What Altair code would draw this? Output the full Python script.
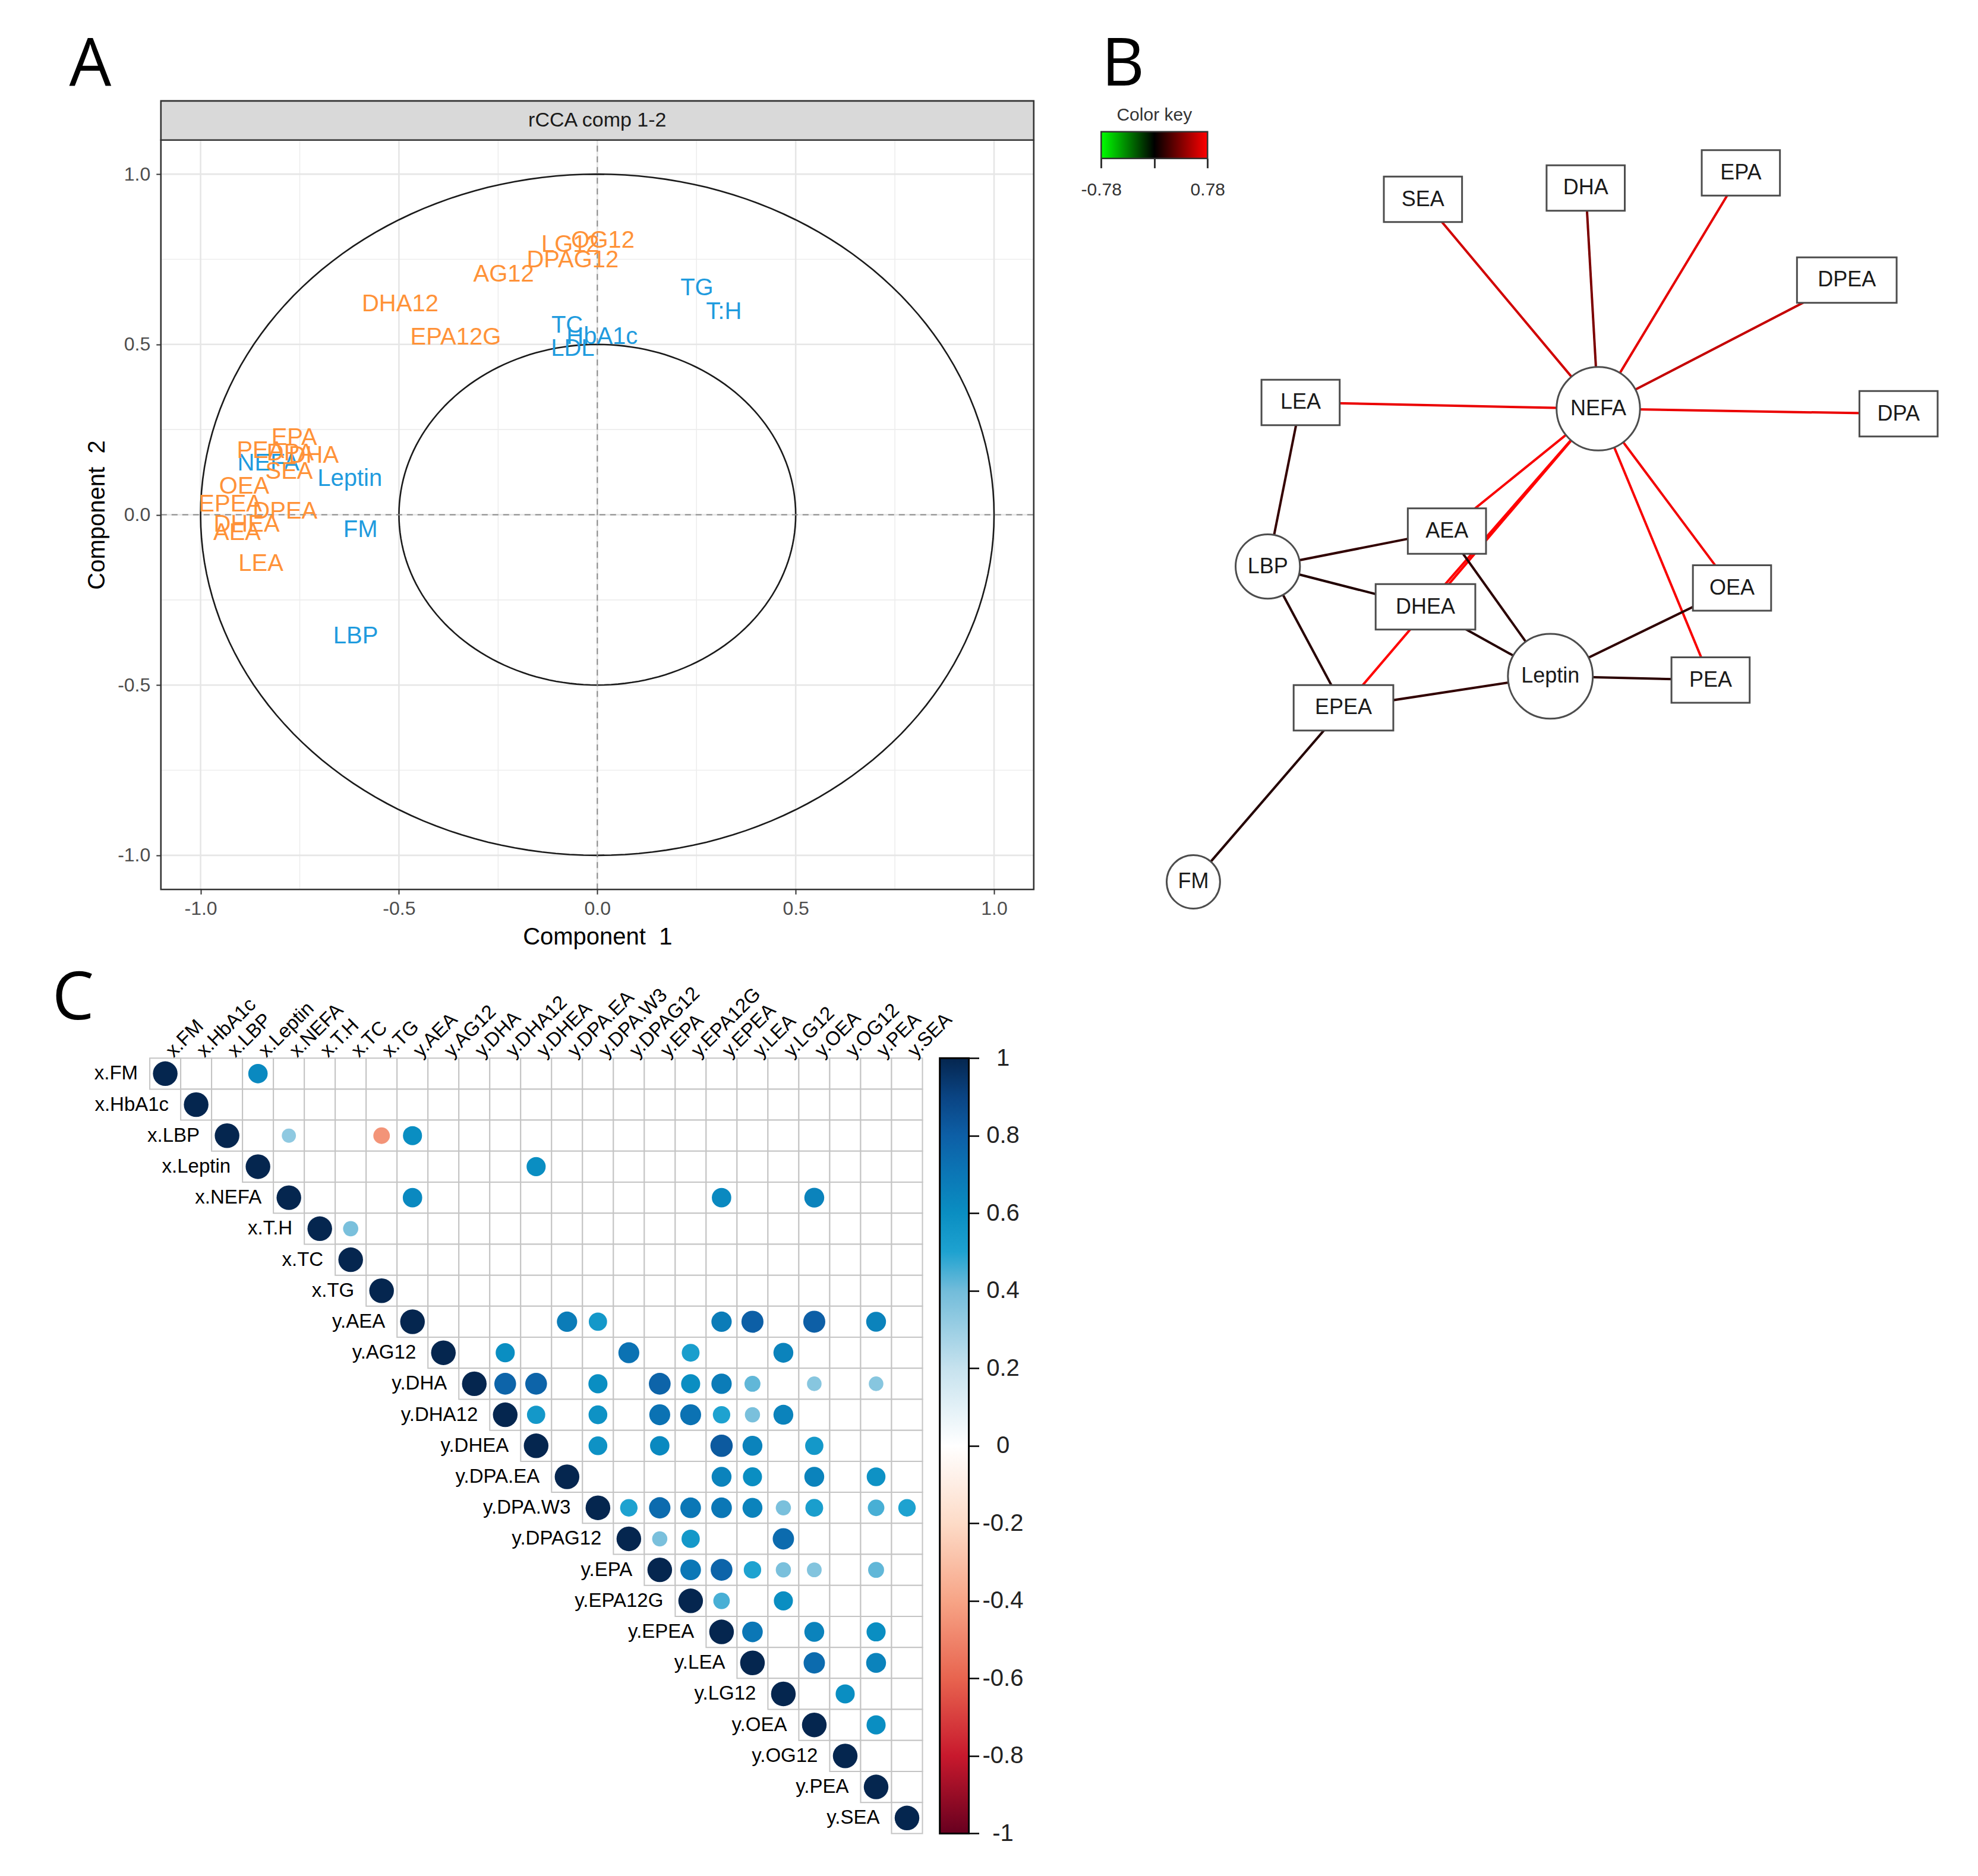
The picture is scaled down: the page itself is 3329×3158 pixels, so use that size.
import altair as alt
import pandas as pd
import numpy as np

# ---------------- figure geometry ----------------
W, H = 3313, 3142          # chart size (page is 3329 x 3158 with 8px margin)
M = 8
SX = 3329 / 1568
SY = 3158 / 1487
FONT = "Liberation Sans"


def fx(v):
    return v - M


# ================= Panel A data (rCCA correlation circle) =================
a_x_names = ["TC", "HbA1c", "LDL", "TG", "T:H", "Leptin", "FM", "LBP", "NEFA"]
a_x_comp1 = [-0.076, 0.012, -0.062, 0.251, 0.319, -0.624, -0.597, -0.609, -0.829]
a_x_comp2 = [0.555, 0.523, 0.488, 0.665, 0.596, 0.105, -0.045, -0.357, 0.150]

a_y_names = ["OG12", "LG12", "DPAG12", "AG12", "DHA12", "EPA12G", "EPA", "PEA", "DPA",
             "DHA", "SEA", "OEA", "EPEA", "DPEA", "DHEA", "AEA", "LEA"]
a_y_comp1 = [0.014, -0.068, -0.062, -0.236, -0.497, -0.357, -0.764, -0.849, -0.774,
             -0.715, -0.777, -0.890, -0.925, -0.787, -0.884, -0.908, -0.848]
a_y_comp2 = [0.805, 0.793, 0.747, 0.706, 0.619, 0.520, 0.225, 0.187, 0.180,
             0.173, 0.126, 0.083, 0.030, 0.010, -0.028, -0.054, -0.144]

a_circle_radii = [1.0, 0.5]
a_major = [-1.0, -0.5, 0.0, 0.5, 1.0]
a_minor = [-0.75, -0.25, 0.25, 0.75]
a_lim = 1.1
a_strip_top = 1.215
a_strip_text = "rCCA comp 1-2"
a_block_colors = ["#1F9BDE", "#FF9238"]

# ================= Panel B data (network) =================
net_names = ["SEA", "DHA", "EPA", "DPEA", "DPA", "LEA", "NEFA", "AEA", "LBP", "DHEA",
             "OEA", "Leptin", "PEA", "EPEA", "FM"]
net_block = ["Y", "Y", "Y", "Y", "Y", "Y", "X", "Y", "X", "Y", "Y", "X", "Y", "Y", "X"]
net_layout_x = [1128, 1257, 1380, 1464, 1505, 1031, 1267, 1147, 1005, 1130, 1373, 1229, 1356, 1065, 946]
net_layout_y = [158, 149, 137, 222, 328, 319, 324, 421, 449, 481, 466, 536, 539, 561, 699]

edge_from = ["NEFA"] * 11 + ["LBP"] * 4 + ["Leptin"] * 5 + ["FM"]
edge_to = ["SEA", "DHA", "EPA", "DPEA", "DPA", "LEA", "AEA", "DHEA", "EPEA", "OEA", "PEA",
           "LEA", "AEA", "DHEA", "EPEA",
           "AEA", "DHEA", "OEA", "PEA", "EPEA",
           "EPEA"]
edge_weight = [0.64, 0.38, 0.70, 0.60, 0.72, 0.72, 0.76, 0.78, 0.78, 0.74, 0.76,
               0.16, 0.15, 0.10, 0.12,
               0.13, 0.11, 0.14, 0.13, 0.15,
               0.11]

# ================= Panel C data (correlation matrix) =================
corr_vars = ["x.FM", "x.HbA1c", "x.LBP", "x.Leptin", "x.NEFA", "x.T.H", "x.TC", "x.TG",
             "y.AEA", "y.AG12", "y.DHA", "y.DHA12", "y.DHEA", "y.DPA.EA", "y.DPA.W3",
             "y.DPAG12", "y.EPA", "y.EPA12G", "y.EPEA", "y.LEA", "y.LG12", "y.OEA",
             "y.OG12", "y.PEA", "y.SEA"]
corr_row = [0, 2, 2, 2, 3, 4, 4, 4, 5,
            8, 8, 8, 8, 8, 8,
            9, 9, 9, 9,
            10, 10, 10, 10, 10, 10, 10, 10, 10,
            11, 11, 11, 11, 11, 11, 11,
            12, 12, 12, 12, 12,
            13, 13, 13, 13,
            14, 14, 14, 14, 14, 14, 14, 14, 14,
            15, 15, 15,
            16, 16, 16, 16, 16, 16,
            17, 17,
            18, 18, 18,
            19, 19,
            20,
            21]
corr_col = [3, 4, 7, 8, 12, 8, 18, 21, 6,
            13, 14, 18, 19, 21, 23,
            11, 15, 17, 20,
            11, 12, 14, 16, 17, 18, 19, 21, 23,
            12, 14, 16, 17, 18, 19, 20,
            14, 16, 18, 19, 21,
            18, 19, 21, 23,
            15, 16, 17, 18, 19, 20, 21, 23, 24,
            16, 17, 20,
            17, 18, 19, 20, 21, 23,
            18, 20,
            19, 21, 23,
            21, 23,
            22,
            23]
corr_val = [0.62, 0.33, -0.45, 0.60, 0.60, 0.62, 0.62, 0.65, 0.38,
            0.68, 0.55, 0.68, 0.80, 0.80, 0.65,
            0.60, 0.72, 0.52, 0.65,
            0.78, 0.78, 0.60, 0.78, 0.60, 0.68, 0.42, 0.35, 0.35,
            0.55, 0.58, 0.72, 0.72, 0.50, 0.38, 0.65,
            0.58, 0.62, 0.82, 0.65, 0.55,
            0.65, 0.60, 0.65, 0.58,
            0.50, 0.75, 0.70, 0.70, 0.65, 0.38, 0.52, 0.45, 0.50,
            0.38, 0.55, 0.75,
            0.70, 0.78, 0.50, 0.38, 0.36, 0.42,
            0.45, 0.60,
            0.70, 0.65, 0.60,
            0.75, 0.65,
            0.60,
            0.60]
cbar_ticks = [-1, -0.8, -0.6, -0.4, -0.2, 0, 0.2, 0.4, 0.6, 0.8, 1]
corr_color_domain = [-1, -0.8, -0.6, -0.4, -0.2, 0, 0.2, 0.4, 0.5, 0.6, 0.7, 0.8, 0.9, 1]
corr_color_range = ["#67001F", "#C8192D", "#E8644F", "#F7A486", "#FDDBC7", "#FFFFFF",
                    "#C6E2EE", "#72BCDA", "#1EA2D0", "#0A8EC2", "#0B77B6", "#0D5FA6",
                    "#0A4483", "#05264F"]

# panel letters (figure coordinates, reference pixels)
letter_text = ["A", "B", "C"]
letter_x = [152, 1890, 123]
letter_y = [144, 144, 1716]

# =====================================================================
# Panel A
# =====================================================================
A_X = alt.Scale(domain=[-a_lim, a_lim], range=[fx(270.8), fx(1739.8)], nice=False, zero=False)
A_Y = alt.Scale(domain=[-a_lim, a_lim], range=[fx(1497.2), fx(235.8)], nice=False, zero=False)
lab_expr = "(datum.value < 0 ? '-' : '') + format(abs(datum.value), '.1f')"
A_XAX = alt.Axis(orient="bottom", offset=fx(1497.2) - H, values=a_major, labelExpr=lab_expr,
                 grid=False, domain=False, tickSize=8, tickWidth=2, tickColor="#333333",
                 labelFont=FONT, labelFontSize=32, labelColor="#4D4D4D", labelPadding=9,
                 labelFlush=False,
                 title="Component \u00a01", titleFont=FONT, titleFontSize=40,
                 titleFontWeight="normal", titleColor="#000000", titlePadding=12)
A_YAX = alt.Axis(orient="left", offset=-fx(270.8), values=a_major, labelExpr=lab_expr,
                 grid=False, domain=False, tickSize=8, tickWidth=2, tickColor="#333333",
                 labelFont=FONT, labelFontSize=32, labelColor="#4D4D4D", labelPadding=10,
                 labelFlush=False,
                 title="Component \u00a02", titleFont=FONT, titleFontSize=40,
                 titleFontWeight="normal", titleColor="#000000", titlePadding=14)


def AX(f):
    return alt.X(f, type="quantitative", scale=A_X, axis=A_XAX)


def AY(f):
    return alt.Y(f, type="quantitative", scale=A_Y, axis=A_YAX)


minor_df = pd.DataFrame({"v": a_minor, "lo": -a_lim, "hi": a_lim})
major_df = pd.DataFrame({"v": a_major, "lo": -a_lim, "hi": a_lim})
zero_df = pd.DataFrame({"v": [0.0], "lo": [-a_lim], "hi": [a_lim]})

ang = np.deg2rad(np.arange(0, 361, 2))
circ_rows = []
for r in a_circle_radii:
    for k, t in enumerate(ang):
        circ_rows.append({"r": r, "k": k, "cx": r * np.cos(t), "cy": r * np.sin(t)})
circ_df = pd.DataFrame(circ_rows)

lab_df = pd.concat([
    pd.DataFrame({"name": a_x_names, "c1": a_x_comp1, "c2": a_x_comp2, "block": "X"}),
    pd.DataFrame({"name": a_y_names, "c1": a_y_comp1, "c2": a_y_comp2, "block": "Y"}),
], ignore_index=True)
lab_df["ord"] = range(len(lab_df))

box_df = pd.DataFrame({"lo": [-a_lim], "hi": [a_lim]})
strip_df = pd.DataFrame({"lo": [-a_lim], "hi": [a_lim], "b": [a_lim], "t": [a_strip_top],
                         "mx": [0.0], "my": [(a_lim + a_strip_top) / 2], "txt": [a_strip_text]})

a_layers = [
    alt.Chart(minor_df).mark_rule(color="#EDEDED", strokeWidth=1.6).encode(x=AX("v"), y=AY("lo"), y2="hi"),
    alt.Chart(minor_df).mark_rule(color="#EDEDED", strokeWidth=1.6).encode(y=AY("v"), x=AX("lo"), x2="hi"),
    alt.Chart(major_df).mark_rule(color="#E6E6E6", strokeWidth=2.6).encode(x=AX("v"), y=AY("lo"), y2="hi"),
    alt.Chart(major_df).mark_rule(color="#E6E6E6", strokeWidth=2.6).encode(y=AY("v"), x=AX("lo"), x2="hi"),
    alt.Chart(circ_df).mark_line(color="#1A1A1A", strokeWidth=2.6).encode(
        x=AX("cx"), y=AY("cy"), detail="r:N", order="k:Q"),
    alt.Chart(zero_df).mark_rule(color="#8C8C8C", strokeWidth=2, strokeDash=[10, 8]).encode(
        x=AX("v"), y=AY("lo"), y2="hi"),
    alt.Chart(zero_df).mark_rule(color="#8C8C8C", strokeWidth=2, strokeDash=[10, 8]).encode(
        y=AY("v"), x=AX("lo"), x2="hi"),
    alt.Chart(lab_df).mark_text(font=FONT, fontSize=40, baseline="middle").encode(
        x=AX("c1"), y=AY("c2"), text="name:N", order="ord:Q",
        color=alt.Color("block:N", scale=alt.Scale(domain=["X", "Y"], range=a_block_colors), legend=None)),
    alt.Chart(box_df).mark_rect(fillOpacity=0, stroke="#333333", strokeWidth=2.6).encode(
        x=AX("lo"), x2="hi", y=AY("lo"), y2="hi"),
    alt.Chart(strip_df).mark_rect(fill="#D9D9D9", stroke="#333333", strokeWidth=2.6).encode(
        x=AX("lo"), x2="hi", y=AY("b"), y2="t"),
    alt.Chart(strip_df).mark_text(font=FONT, fontSize=34, color="#1A1A1A", baseline="middle").encode(
        x=AX("mx"), y=AY("my"), text="txt:N"),
]
panelA = alt.layer(*a_layers)

# =====================================================================
# Panel B
# =====================================================================
BX = alt.Scale(domain=[850, 1550], range=[fx(850 * SX), fx(1550 * SX)], nice=False, zero=False)
BY = alt.Scale(domain=[60, 730], range=[fx(60 * SY), fx(730 * SY)], nice=False, zero=False)

nodes = pd.DataFrame({"name": net_names, "block": net_block, "lx": net_layout_x, "ly": net_layout_y})
pos = nodes.set_index("name")
edges = pd.DataFrame({"src": edge_from, "dst": edge_to, "w": edge_weight})
edges["x1"] = edges["src"].map(pos["lx"])
edges["y1"] = edges["src"].map(pos["ly"])
edges["x2"] = edges["dst"].map(pos["lx"])
edges["y2"] = edges["dst"].map(pos["ly"])

# circle node radius follows label width (Arial em widths)
cw = {"F": .611, "M": .833, "L": .556, "B": .667, "P": .667, "N": .722, "E": .667, "A": .667,
      "e": .556, "p": .556, "t": .278, "i": .222, "n": .556}
circ_nodes = nodes[nodes["block"] == "X"].copy()
circ_nodes["sz"] = [np.pi * ((8 + 11 * sum(cw.get(c, .6) for c in n)) * SX) ** 2 for n in circ_nodes["name"]]
box_nodes = nodes[nodes["block"] == "Y"].copy()

key_lim = max(abs(w) for w in edge_weight)
edge_color = alt.Color("w:Q", scale=alt.Scale(domain=[-key_lim, 0, key_lim],
                                              range=["#00FF00", "#000000", "#FF0000"],
                                              interpolate="rgb"), legend=None)

b_layers = [
    alt.Chart(edges).mark_rule(strokeWidth=4).encode(
        x=alt.X("x1:Q", scale=BX, axis=None), y=alt.Y("y1:Q", scale=BY, axis=None),
        x2="x2:Q", y2="y2:Q", color=edge_color),
    alt.Chart(box_nodes).transform_calculate(
        bw="17*length(datum.name)+11",
        bx1="datum.lx - datum.bw/2", bx2="datum.lx + datum.bw/2",
        by1="datum.ly - 18", by2="datum.ly + 18",
    ).mark_rect(fill="white", stroke="#4D4D4D", strokeWidth=3).encode(
        x=alt.X("bx1:Q", scale=BX, axis=None), x2="bx2:Q",
        y=alt.Y("by1:Q", scale=BY, axis=None), y2="by2:Q"),
    alt.Chart(circ_nodes).mark_point(shape="circle", fill="white", fillOpacity=1, stroke="#4D4D4D",
                                     strokeWidth=3, opacity=1).encode(
        x=alt.X("lx:Q", scale=BX, axis=None), y=alt.Y("ly:Q", scale=BY, axis=None),
        size=alt.Size("sz:Q", scale=None)),
    alt.Chart(nodes).mark_text(font=FONT, fontSize=36, color="#1A1A1A", baseline="middle").encode(
        x=alt.X("lx:Q", scale=BX, axis=None), y=alt.Y("ly:Q", scale=BY, axis=None), text="name:N"),
]
panelB = alt.layer(*b_layers)

# ----- colour key of the network -----
KX = alt.Scale(domain=[-key_lim, key_lim], range=[fx(1853.3), fx(2032.3)], nice=False, zero=False)
KY = alt.Scale(domain=[0, 1], range=[fx(221.7), fx(266.7)], nice=False, zero=False)
key_axis = alt.Axis(orient="bottom", offset=fx(266.7) - H, values=[-key_lim, 0, key_lim],
                    labelExpr="datum.value == 0 ? '' : toString(datum.value)",
                    tickSize=16, tickWidth=3, tickColor="#333333", domain=False, grid=False,
                    labelFont=FONT, labelFontSize=30, labelColor="#333333", labelPadding=22,
                    labelFlush=False, labelOverlap=False, title=None)
key_df = pd.DataFrame({"lo": [-key_lim], "hi": [key_lim], "b": [0.0], "t": [1.0],
                       "mx": [0.0], "ty": [-0.62], "txt": ["Color key"]})
key_grad = alt.LinearGradient(gradient="linear", x1=0, x2=1, y1=0, y2=0, stops=[
    alt.GradientStop(color="#00FF00", offset=0),
    alt.GradientStop(color="#000000", offset=0.5),
    alt.GradientStop(color="#FF0000", offset=1)])
keyB = alt.layer(
    alt.Chart(key_df).mark_rect(fill=key_grad, stroke="#333333", strokeWidth=2.5).encode(
        x=alt.X("lo:Q", scale=KX, axis=key_axis), x2="hi:Q",
        y=alt.Y("b:Q", scale=KY, axis=None), y2="t:Q"),
    alt.Chart(key_df).mark_text(font=FONT, fontSize=30, color="#333333", baseline="middle").encode(
        x=alt.X("mx:Q", scale=KX, axis=key_axis), y=alt.Y("ty:Q", scale=KY, axis=None), text="txt:N"),
)

# =====================================================================
# Panel C
# =====================================================================
n = len(corr_vars)
CX = alt.Scale(domain=[-0.5, n - 0.5], range=[fx(252.1), fx(1552.5)], nice=False, zero=False)
CY = alt.Scale(domain=[-0.5, n - 0.5], range=[fx(1781.2), fx(3086.4)], nice=False, zero=False)

cells = pd.DataFrame([{"i": i, "j": j} for i in range(n) for j in range(i, n)])
dots = pd.DataFrame({"i": list(range(n)) + corr_row,
                     "j": list(range(n)) + corr_col,
                     "r": [1.0] * n + corr_val})
rowlab = pd.DataFrame({"i": range(n), "name": corr_vars})

corr_color = alt.Color("r:Q", scale=alt.Scale(domain=corr_color_domain, range=corr_color_range,
                                              interpolate="rgb"), legend=None)

c_layers = [
    alt.Chart(cells).transform_calculate(
        x1="datum.j - 0.5", x2="datum.j + 0.5", y1="datum.i - 0.5", y2="datum.i + 0.5"
    ).mark_rect(fill="white", stroke="#C4C4C4", strokeWidth=2).encode(
        x=alt.X("x1:Q", scale=CX, axis=None), x2="x2:Q",
        y=alt.Y("y1:Q", scale=CY, axis=None), y2="y2:Q"),
    alt.Chart(dots).transform_calculate(a="abs(datum.r)").mark_circle(opacity=1).encode(
        x=alt.X("j:Q", scale=CX, axis=None), y=alt.Y("i:Q", scale=CY, axis=None),
        color=corr_color,
        size=alt.Size("a:Q", scale=alt.Scale(domain=[0, 1], range=[0, 1720]), legend=None)),
    alt.Chart(rowlab).transform_calculate(xl="datum.i - 0.5").mark_text(
        font=FONT, fontSize=33, color="#000000", align="right", baseline="middle", dx=-20).encode(
        x=alt.X("xl:Q", scale=CX, axis=None), y=alt.Y("i:Q", scale=CY, axis=None), text="name:N"),
    alt.Chart(rowlab).transform_calculate(yt="-0.5").mark_text(
        font=FONT, fontSize=33, color="#000000", align="left", baseline="middle", angle=315, dx=10).encode(
        x=alt.X("i:Q", scale=CX, axis=None), y=alt.Y("yt:Q", scale=CY, axis=None), text="name:N"),
]
panelC = alt.layer(*c_layers)

# ----- colour bar -----
CBX = alt.Scale(domain=[0, 1], range=[fx(1581.7), fx(1630.5)], nice=False, zero=False)
CBY = alt.Scale(domain=[-1, 1], range=[fx(3086.4), fx(1781.2)], nice=False, zero=False)
cb_axis = alt.Axis(orient="right", offset=fx(1630.5) - W, values=cbar_ticks,
                   labelExpr="toString(datum.value)", tickSize=17, tickWidth=2.5, tickColor="#000000",
                   domain=False, grid=False, labelFont=FONT, labelFontSize=40, labelColor="#222222",
                   labelAlign="center", labelBaseline="middle", labelPadding=40, labelFlush=False,
                   labelOverlap=False, title=None)
cb_grad = alt.LinearGradient(gradient="linear", x1=0, x2=0, y1=1, y2=0, stops=[
    alt.GradientStop(color=c, offset=(d + 1) / 2) for d, c in zip(corr_color_domain, corr_color_range)])
cb_df = pd.DataFrame({"lo": [0.0], "hi": [1.0], "b": [-1.0], "t": [1.0]})
cbar = alt.Chart(cb_df).mark_rect(fill=cb_grad, stroke="#000000", strokeWidth=3).encode(
    x=alt.X("lo:Q", scale=CBX, axis=None), x2="hi:Q",
    y=alt.Y("b:Q", scale=CBY, axis=cb_axis), y2="t:Q")

# ----- panel letters -----
LX = alt.Scale(domain=[0, 3329], range=[-M, 3329 - M], nice=False, zero=False)
LY = alt.Scale(domain=[0, 3158], range=[-M, 3158 - M], nice=False, zero=False)
letters_df = pd.DataFrame({"t": letter_text, "x": letter_x, "y": letter_y})
letters = alt.Chart(letters_df).mark_text(font="Open Sans", fontSize=112, color="#000000",
                                         align="center", baseline="alphabetic").encode(
    x=alt.X("x:Q", scale=LX, axis=None), y=alt.Y("y:Q", scale=LY, axis=None), text="t:N")

chart = alt.layer(panelA, panelB, keyB, panelC, cbar, letters).resolve_scale(
    x="independent", y="independent", color="independent", size="independent"
).properties(
    width=W, height=H, autosize=alt.AutoSizeParams(type="none"), padding=0, background="white"
).configure_view(stroke=None)

chart.save("out.html", embed_options={"renderer": "svg", "actions": False})
